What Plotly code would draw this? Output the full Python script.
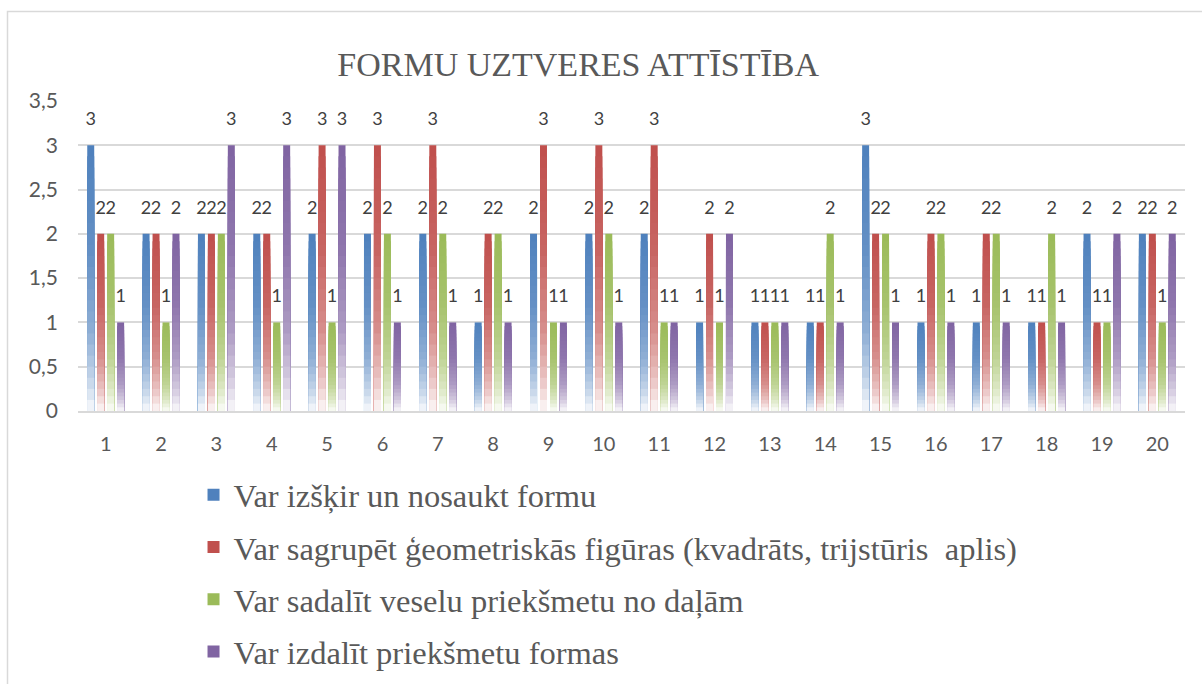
import plotly.graph_objects as go

categories = [str(i) for i in range(1, 21)]
series_names = [
    "Var izšķir un nosaukt formu",
    "Var sagrupēt ģeometriskās figūras (kvadrāts, trijstūris  aplis)",
    "Var sadalīt veselu priekšmetu no daļām",
    "Var izdalīt priekšmetu formas",
]
s1 = [3, 2, 2, 2, 2, 2, 2, 1, 2, 2, 2, 1, 1, 1, 3, 1, 1, 1, 2, 2]
s2 = [2, 2, 2, 2, 3, 3, 3, 2, 3, 3, 3, 2, 1, 1, 2, 2, 2, 1, 1, 2]
s3 = [2, 1, 2, 1, 1, 2, 2, 2, 1, 2, 1, 1, 1, 2, 2, 2, 2, 2, 1, 1]
s4 = [1, 2, 3, 3, 3, 1, 1, 1, 1, 1, 1, 2, 1, 1, 1, 1, 1, 1, 2, 2]
series_values = [s1, s2, s3, s4]
base_colors = [(79, 129, 189), (192, 80, 77), (155, 187, 89), (128, 100, 162)]

# gradient: fraction from bottom -> colour strength
stops = [(0.0, 0.04), (0.12, 0.34), (0.3, 0.64), (0.6, 0.88), (1.0, 1.0)]


def strength(f):
    for (f0, t0), (f1, t1) in zip(stops[:-1], stops[1:]):
        if f0 <= f <= f1:
            return t0 + (t1 - t0) * (f - f0) / (f1 - f0)
    return 1.0


def mix(c, t):
    r, g, b = (round(255 + (ci - 255) * t) for ci in c)
    return f"rgb({r},{g},{b})"


SERIF = "Liberation Serif"
SANS = "Lato"

N = 24
LABEL_PAD = 0.15
fig = go.Figure()
for si, (name, vals, col) in enumerate(zip(series_names, series_values, base_colors)):
    grp = f"s{si}"
    for k in range(N - 1, -1, -1):
        frac = (k + 1) / N
        fmid = (k + 0.5) / N
        fig.add_trace(go.Bar(
            x=categories, y=[v * frac for v in vals],
            name=name, offsetgroup=grp, legendgroup=grp,
            showlegend=(k == N - 1),
            marker=dict(color=mix(col, strength(fmid)) if k < N - 1 else mix(col, 1.0),
                        line=dict(width=0)),
            hoverinfo="skip",
        ))
    fig.add_trace(go.Bar(
        x=categories, y=[LABEL_PAD] * len(vals), base=vals,
        offsetgroup=grp, legendgroup=grp, showlegend=False,
        marker=dict(color="rgba(0,0,0,0)", line=dict(width=0)),
        text=[str(v) for v in vals], textposition="outside",
        textfont=dict(family=SANS, size=18, color="#404040"),
        constraintext="none", cliponaxis=False, hoverinfo="skip",
    ))

fig.update_layout(
    width=1202, height=684,
    margin=dict(l=78, r=17, t=101, b=273, autoexpand=False),
    paper_bgcolor="white", plot_bgcolor="white",
    barmode="group", bargap=0.28, bargroupgap=0.3,
    separators=",.",
    title=dict(text="FORMU UZTVERES ATTĪSTĪBA", x=0.481, xanchor="center",
               xref="container", y=0.906, yanchor="middle", yref="container",
               font=dict(family=SERIF, size=34, color="#595959")),
    xaxis=dict(type="category", showgrid=False, showline=True, linecolor="#D9D9D9", linewidth=1.5,
               ticks="", ticklabelstandoff=14,
               tickfont=dict(family=SANS, size=20, color="#595959")),
    yaxis=dict(range=[0, 3.5], dtick=0.5, showgrid=True, gridcolor="#D9D9D9", gridwidth=1.5,
               zeroline=False, showline=False, ticks="", ticklabelstandoff=19,
               tickfont=dict(family=SANS, size=21, color="#595959")),
    legend=dict(orientation="v", xref="container", yref="container",
                x=0.161, xanchor="left", y=0.317, yanchor="top",
                traceorder="grouped", tracegroupgap=7,
                font=dict(family=SERIF, size=32.5, color="#595959"),
                bgcolor="rgba(0,0,0,0)"),
    shapes=[dict(type="rect", xref="paper", yref="paper",
                 x0=(7.5 - 78) / 1107, x1=1.5, y0=-2, y1=(411 - 11.5) / 310,
                 line=dict(color="#D9D9D9", width=1.5), fillcolor="rgba(0,0,0,0)", layer="below")],
)

fig.write_html("out.html", config={"displayModeBar": False},
               post_script="document.body.style.margin='0';")
